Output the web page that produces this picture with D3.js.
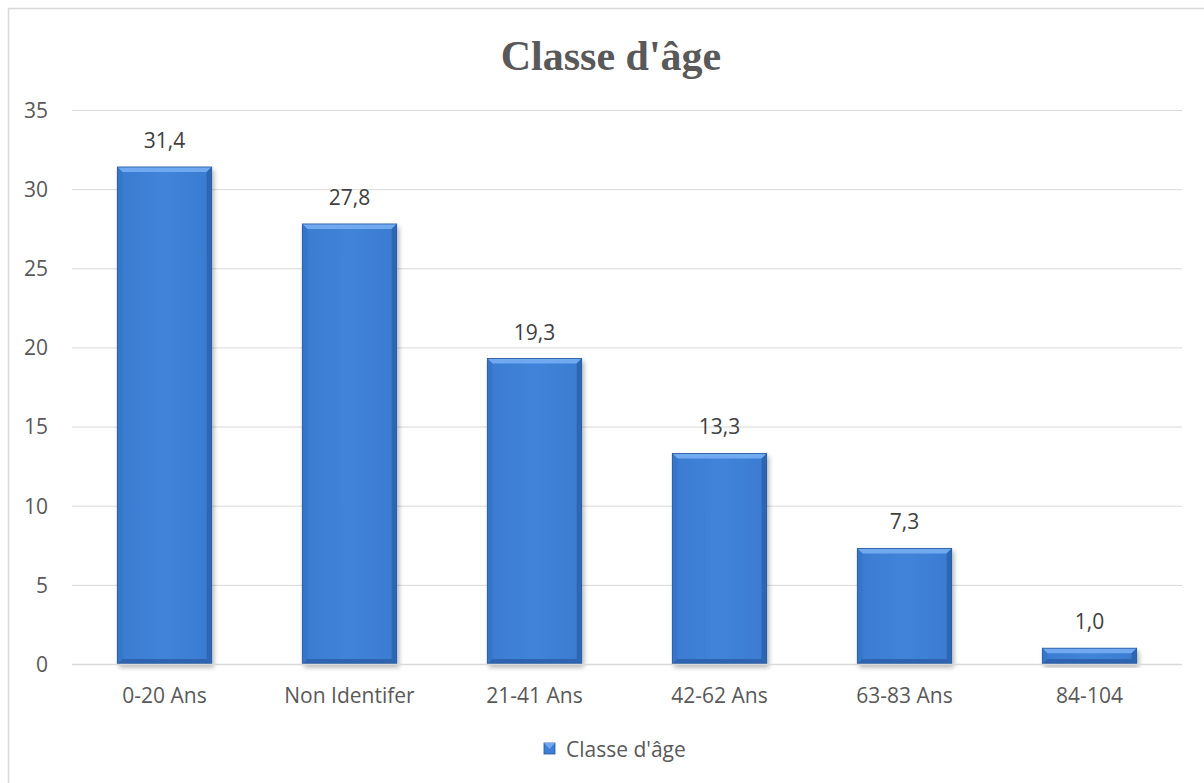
<!DOCTYPE html>
<html>
<head>
<meta charset="utf-8">
<script src="https://cdn.jsdelivr.net/npm/d3@7/dist/d3.min.js"></script>
<style>
  html, body { margin: 0; padding: 0; background: #ffffff; }
  svg { display: block; }
</style>
</head>
<body>
<svg id="chart" width="1204" height="783"></svg>
<script>
const categories = ["0-20 Ans", "Non Identifer", "21-41 Ans", "42-62 Ans", "63-83 Ans", "84-104"];
const values = [31.4, 27.8, 19.3, 13.3, 7.3, 1.0];
const yTicks = [0, 5, 10, 15, 20, 25, 30, 35];
const seriesName = "Classe d'âge";
const chartTitle = "Classe d'âge";

const svg = d3.select("#chart");
const W = 1204, H = 783;
const font = "'Open Sans', 'Noto Sans', sans-serif";
const fs = 21;

// outer chart frame
svg.append("rect")
  .attr("x", 8.5).attr("y", 8.5)
  .attr("width", W).attr("height", H)
  .attr("fill", "#fff").attr("stroke", "#d9d9d9").attr("stroke-width", 1.5);

const plot = { left: 72, right: 1182, top: 110, bottom: 664 };

const x = d3.scaleBand().domain(categories)
  .range([plot.left, plot.right]).paddingInner(0.49).paddingOuter(0.245);
const y = d3.scaleLinear().domain([0, 35]).range([plot.bottom, plot.top]);

// gradients
const defs = svg.append("defs");
const body = defs.append("linearGradient").attr("id", "barBody")
  .attr("x1", 0).attr("x2", 1).attr("y1", 0).attr("y2", 0);
body.append("stop").attr("offset", "0%").attr("stop-color", "#3a7bd0");
body.append("stop").attr("offset", "50%").attr("stop-color", "#4084da");
body.append("stop").attr("offset", "100%").attr("stop-color", "#3a7bd0");

const shadow = defs.append("filter").attr("id", "shadow")
  .attr("x", "-10%").attr("y", "-10%").attr("width", "130%").attr("height", "130%");
shadow.append("feGaussianBlur").attr("in", "SourceAlpha").attr("stdDeviation", 2.5);
shadow.append("feOffset").attr("dx", 2).attr("dy", 3).attr("result", "b");
shadow.append("feComponentTransfer").append("feFuncA").attr("type", "linear").attr("slope", 0.3);
const mg = shadow.append("feMerge");
mg.append("feMergeNode");
mg.append("feMergeNode").attr("in", "SourceGraphic");

// gridlines
svg.append("g").selectAll("line").data(yTicks.filter(d => d > 0)).join("line")
  .attr("x1", plot.left).attr("x2", plot.right)
  .attr("y1", d => y(d) + 0.5).attr("y2", d => y(d) + 0.5)
  .attr("stroke", "#d9d9d9").attr("stroke-width", 1);

// y axis labels
const yAxis = d3.axisLeft(y).tickValues(yTicks).tickSize(0).tickPadding(0);
const gy = svg.append("g").attr("transform", `translate(48,0)`).call(yAxis);
gy.select(".domain").remove();
gy.selectAll("text").attr("font-family", font).attr("font-size", fs)
  .attr("fill", "#595959").attr("dy", "0.35em");

// bars
const bev = 5;
const bars = svg.append("g").selectAll("g").data(values).join("g")
  .attr("filter", "url(#shadow)");
bars.each(function(v, i) {
  const g = d3.select(this);
  const x0 = x(categories[i]), w = x.bandwidth();
  const y0 = y(v), y1 = y(0), x1 = x0 + w;
  g.append("rect").attr("x", x0).attr("y", y0).attr("width", w).attr("height", y1 - y0)
    .attr("fill", "url(#barBody)");
  const b = Math.min(bev, (y1 - y0) / 2);
  // top bevel (light)
  g.append("path").attr("d", `M${x0},${y0}L${x1},${y0}L${x1 - b},${y0 + b}L${x0 + b},${y0 + b}Z`)
    .attr("fill", "#6fa9ef");
  // left bevel
  g.append("path").attr("d", `M${x0},${y0}L${x0 + b},${y0 + b}L${x0 + b},${y1 - b}L${x0},${y1}Z`)
    .attr("fill", "#3676cb");
  // right bevel (dark)
  g.append("path").attr("d", `M${x1},${y0}L${x1},${y1}L${x1 - b},${y1 - b}L${x1 - b},${y0 + b}Z`)
    .attr("fill", "#2d66b4");
  // bottom bevel (dark)
  g.append("path").attr("d", `M${x0},${y1}L${x1},${y1}L${x1 - b},${y1 - b}L${x0 + b},${y1 - b}Z`)
    .attr("fill", "#2d64b0");
  g.append("rect").attr("x", x0).attr("y", y0).attr("width", w).attr("height", y1 - y0)
    .attr("fill", "none").attr("stroke", "#24579c").attr("stroke-width", 0.8);
});

// baseline
svg.append("line").attr("x1", plot.left).attr("x2", plot.right)
  .attr("y1", y(0) + 0.5).attr("y2", y(0) + 0.5)
  .attr("stroke", "#d9d9d9").attr("stroke-width", 1.5);

// value labels
svg.append("g").selectAll("text").data(values).join("text")
  .attr("x", (d, i) => x(categories[i]) + x.bandwidth() / 2)
  .attr("y", d => y(d) - 19)
  .attr("text-anchor", "middle")
  .attr("font-family", font).attr("font-size", fs).attr("fill", "#404040")
  .text(d => d.toFixed(1).replace(".", ","));

// x axis labels
const xAxis = d3.axisBottom(x).tickSize(0).tickPadding(0);
const gx = svg.append("g").attr("transform", `translate(0,${plot.bottom})`).call(xAxis);
gx.select(".domain").remove();
gx.selectAll("text").attr("font-family", font).attr("font-size", fs)
  .attr("fill", "#595959").attr("dy", 0).attr("y", 39);

// title
svg.append("text").attr("x", 611).attr("y", 70).attr("text-anchor", "middle")
  .attr("font-family", "'Liberation Serif', 'Times New Roman', serif")
  .attr("font-weight", "bold").attr("font-size", 42).attr("fill", "#595959")
  .text(chartTitle);

// legend
const lg = svg.append("g").attr("transform", "translate(544,743)");
lg.append("rect").attr("width", 11).attr("height", 11).attr("fill", "#3d7fd4")
  .attr("stroke", "#24579c").attr("stroke-width", 0.8);
lg.append("path").attr("d", "M0,0L11,0L5.5,6Z").attr("fill", "#6fa9ef");
lg.append("text").attr("x", 22).attr("y", 14)
  .attr("font-family", font).attr("font-size", fs).attr("fill", "#595959")
  .text(seriesName);
</script>
</body>
</html>
